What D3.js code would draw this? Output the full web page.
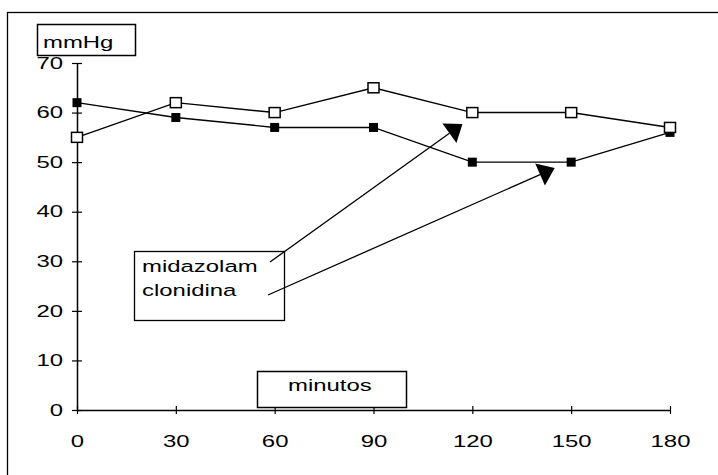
<!DOCTYPE html>
<html>
<head>
<meta charset="utf-8">
<script src="https://cdn.jsdelivr.net/npm/d3@7"></script>
<style>
  body { margin: 0; background: #fff; }
  svg { font-family: "Liberation Sans", Arial, sans-serif; }
</style>
</head>
<body>
<div id="chart"></div>
<script>
// data
var minutos = [0, 30, 60, 90, 120, 150, 180];
var midazolam = [55, 62, 60, 65, 60, 60, 57];   // open squares
var clonidina = [62, 59, 57, 57, 50, 50, 56];   // filled squares
var yTicks = [0, 10, 20, 30, 40, 50, 60, 70];
var seriesNames = ["midazolam", "clonidina"];

var W = 718, H = 475;
var margin = {top: 63, right: 48, bottom: 65, left: 77},
    width = W - margin.left - margin.right,
    height = H - margin.top - margin.bottom;

// the scanned font is much wider than Arial, so stretch text horizontally
var SX = 1.45, FS = 16.5;

var svg = d3.select("#chart").append("svg")
    .attr("width", W)
    .attr("height", H);

// outer frame (only top and left edges show in the picture)
svg.append("rect")
  .attr("x", 7.5).attr("y", 12.5)
  .attr("width", 730).attr("height", 480)
  .attr("fill", "none").attr("stroke", "#000").attr("stroke-width", 1.3);

var g = svg.append("g")
  .attr("transform", "translate(" + margin.left + "," + margin.top + ")");

var x = d3.scaleLinear().domain([0, 180]).range([0, width]);
var y = d3.scaleLinear().domain([0, 70]).range([height, 0]);

// y axis with cross ticks
var yAxis = g.append("g")
  .call(d3.axisLeft(y).tickValues(yTicks).tickSizeInner(0).tickSizeOuter(0).tickPadding(14));
yAxis.select(".domain").attr("stroke-width", 1.5);
yAxis.selectAll(".tick line").attr("x1", -5).attr("x2", 5).attr("stroke-width", 1.2);
yAxis.selectAll(".tick text")
  .attr("font-size", FS).attr("fill", "#000")
  .attr("font-family", "Liberation Sans, Arial, sans-serif")
  .attr("x", -14 / SX)
  .attr("transform", "scale(" + SX + ",1)");

// x axis
var xAxis = g.append("g")
  .attr("transform", "translate(0," + height + ")")
  .call(d3.axisBottom(x).tickValues(minutos).tickSizeInner(0).tickSizeOuter(0).tickPadding(25));
xAxis.select(".domain").attr("stroke-width", 1.5);
xAxis.selectAll(".tick line").attr("y1", -4).attr("y2", 4).attr("stroke-width", 1.2);
xAxis.selectAll(".tick text")
  .attr("font-size", FS).attr("fill", "#000")
  .attr("font-family", "Liberation Sans, Arial, sans-serif")
  .attr("transform", "scale(" + SX + ",1)");

var line = d3.line()
  .x(function(d, i) { return x(minutos[i]); })
  .y(function(d) { return y(d); });

g.append("path").datum(clonidina)
  .attr("fill", "none").attr("stroke", "#000").attr("stroke-width", 1.4)
  .attr("d", line);
g.append("path").datum(midazolam)
  .attr("fill", "none").attr("stroke", "#000").attr("stroke-width", 1.4)
  .attr("d", line);

g.append("g").selectAll("rect")
  .data(clonidina).enter().append("rect")
    .attr("x", function(d, i) { return x(minutos[i]) - 4.5; })
    .attr("y", function(d) { return y(d) - 4.5; })
    .attr("width", 9).attr("height", 9)
    .attr("fill", "#000");

g.append("g").selectAll("rect")
  .data(midazolam).enter().append("rect")
    .attr("x", function(d, i) { return x(minutos[i]) - 5.5; })
    .attr("y", function(d) { return y(d) - 5; })
    .attr("width", 11).attr("height", 10)
    .attr("fill", "#fff").attr("stroke", "#000").attr("stroke-width", 1.5);

// stretched text helper
function wideText(parent, tx, ty, txt) {
  return parent.append("text")
    .attr("x", tx / SX).attr("y", ty)
    .attr("transform", "scale(" + SX + ",1)")
    .attr("font-size", FS)
    .text(txt);
}

// axis title boxes
function labelBox(bx, by, bw, bh, txt, tx, ty) {
  svg.append("rect")
    .attr("x", bx).attr("y", by).attr("width", bw).attr("height", bh)
    .attr("fill", "#fff").attr("stroke", "#000").attr("stroke-width", 1.5);
  wideText(svg, tx, ty, txt);
}
labelBox(37.5, 24.5, 98, 31, "mmHg", 43, 48);
labelBox(257.5, 371.5, 149, 36, "minutos", 288, 391);

// legend box with arrows pointing to the series
var legend = svg.append("g");
legend.append("rect")
  .attr("x", 134.5).attr("y", 251.5).attr("width", 150).attr("height", 69)
  .attr("fill", "#fff").attr("stroke", "#000").attr("stroke-width", 1.3);
seriesNames.forEach(function(name, i) {
  wideText(legend, 142, 272 + i * 24, name);
});

// arrows: start next to the legend text, tip at a point in data space
var arrows = [
  {from: [270, 262], tip: [117, 57.7]},
  {from: [268, 295], tip: [145, 48.8]}
];
arrows.forEach(function(a) {
  var tx = margin.left + x(a.tip[0]), ty = margin.top + y(a.tip[1]);
  var ang = Math.atan2(ty - a.from[1], tx - a.from[0]);
  var len = 16, half = 12;
  var bx = tx - len * Math.cos(ang), by = ty - len * Math.sin(ang);
  svg.append("line")
    .attr("x1", a.from[0]).attr("y1", a.from[1])
    .attr("x2", bx).attr("y2", by)
    .attr("stroke", "#000").attr("stroke-width", 1.3);
  var p1 = [bx + half * Math.sin(ang), by - half * Math.cos(ang)];
  var p2 = [bx - half * Math.sin(ang), by + half * Math.cos(ang)];
  svg.append("path")
    .attr("d", "M" + tx + "," + ty + "L" + p1 + "L" + p2 + "Z")
    .attr("fill", "#000");
});
</script>
</body>
</html>
